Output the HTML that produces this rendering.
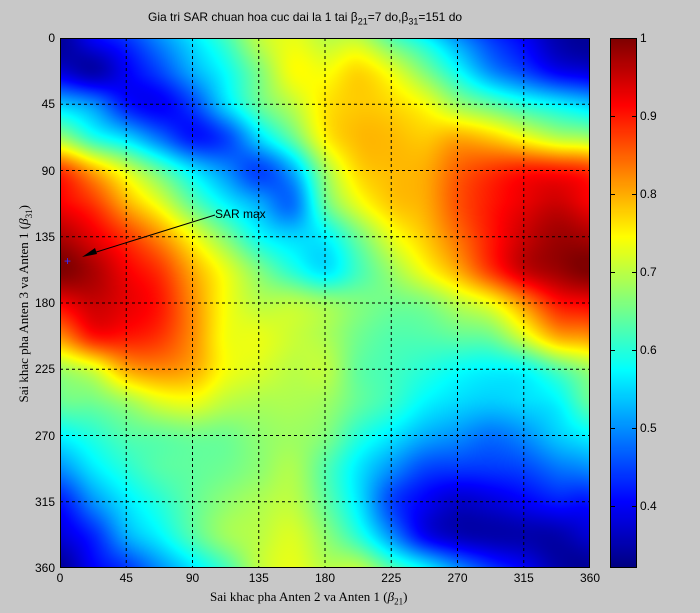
<!DOCTYPE html>
<html><head><meta charset="utf-8"><style>
body{margin:0;background:#c8c8c8;width:700px;height:613px;overflow:hidden;position:relative;font-family:"Liberation Sans",sans-serif;}
.t{position:absolute;font-size:12px;color:#000;}
.s{font-family:"Liberation Serif",serif;}
</style></head><body>
<canvas id="c" width="530" height="530" style="position:absolute;left:60px;top:38px"></canvas>
<canvas id="cb" width="27" height="530" style="position:absolute;left:610px;top:38px"></canvas>
<svg width="700" height="613" style="position:absolute;left:0;top:0">
<g id="g" stroke="#000" stroke-width="1" stroke-dasharray="3,3" fill="none"></g>
<rect x="60.5" y="38.5" width="529" height="529" fill="none" stroke="#000"/>
<rect x="610.5" y="38.5" width="26" height="529" fill="none" stroke="#000"/>
<line x1="215" y1="215" x2="90" y2="254" stroke="#000"/>
<polygon points="82,257 95,248 97,254" fill="#000"/>
<text x="64" y="265" fill="#3030ff" font-size="12">+</text>
</svg>
<div class="t" style="left:215px;top:207px;">SAR max</div>
<div class="t" style="left:148px;top:10px;">Gia tri SAR chuan hoa cuc dai la 1 tai β<sub style="font-size:9px">21</sub>=7 do,β<sub style="font-size:9px">31</sub>=151 do</div>
<div class="t s" style="left:210px;top:589px;font-size:13px;">Sai khac pha Anten 2 va Anten 1 (<i>β</i><sub style="font-size:9px">21</sub>)</div>
<div class="t s" style="left:-95px;top:295px;font-size:13px;transform:rotate(-90deg);width:240px;text-align:center;">Sai khac pha Anten 3 va Anten 1 (<i>β</i><sub style="font-size:9px">31</sub>)</div>
<div id="lab"></div>
<script>
var V=[
[.34,.40,.44,.50,.56,.62,.70,.73, .70,.70,.63,.57,.50,.44,.40,.35],
[.38,.35,.40,.45,.52,.58,.66,.74, .74,.77,.73,.66,.58,.50,.45,.40],
[.54,.50,.42,.40,.45,.55,.64,.70, .76,.78,.77,.74,.68,.64,.60,.57],
[.68,.60,.55,.48,.42,.45,.55,.64, .75,.79,.79,.78,.80,.78,.74,.70],
[.88,.80,.72,.64,.56,.50,.45,.52, .68,.77,.79,.80,.85,.88,.90,.90],
[.92,.88,.80,.73,.64,.57,.52,.48, .64,.73,.78,.80,.86,.90,.93,.95],
[.97,.93,.88,.82,.74,.66,.58,.55, .57,.65,.73,.78,.84,.90,.95,.98],
[1.0,.97,.92,.88,.80,.73,.66,.60, .56,.62,.68,.74,.80,.88,.95,.98],
[.92,.95,.93,.90,.82,.74,.70,.70, .68,.66,.65,.66,.70,.74,.82,.90],
[.82,.90,.90,.88,.82,.74,.73,.71, .69,.65,.63,.63,.64,.65,.72,.80],
[.68,.72,.80,.82,.80,.74,.72,.70, .70,.64,.62,.60,.58,.57,.58,.63],
[.64,.65,.68,.72,.73,.70,.69,.69, .68,.64,.61,.57,.55,.54,.55,.57],
[.57,.60,.63,.64,.65,.65,.67,.68, .66,.60,.56,.52,.50,.48,.50,.54],
[.50,.56,.60,.63,.64,.65,.67,.69, .63,.56,.50,.45,.44,.44,.45,.48],
[.42,.50,.56,.60,.64,.67,.69,.70, .64,.56,.45,.40,.37,.38,.40,.42],
[.38,.43,.52,.57,.63,.68,.70,.72, .67,.60,.50,.40,.36,.35,.35,.35]];
var N=16,S=22.5;
function g(i,j){return V[(i%N+N)%N][(j%N+N)%N];}
function cr(p0,p1,p2,p3,t){return 0.5*((2*p1)+(-p0+p2)*t+(2*p0-5*p1+4*p2-p3)*t*t+(-p0+3*p1-3*p2+p3)*t*t*t);}
function f(x,y){var gx=x/S,gy=y/S,i=Math.floor(gy),j=Math.floor(gx),tx=gx-j,ty=gy-i,r=[];
for(var k=-1;k<3;k++)r.push(cr(g(i+k,j-1),g(i+k,j),g(i+k,j+1),g(i+k,j+2),tx));
return cr(r[0],r[1],r[2],r[3],ty);}
function jet(t){t=Math.max(0,Math.min(1,t));function c(v){return Math.round(255*Math.max(0,Math.min(1,v)));}
return [c(1.5-Math.abs(4*t-3)),c(1.5-Math.abs(4*t-2)),c(1.5-Math.abs(4*t-1))];}
var lo=0.32,hi=1;
var cv=document.getElementById('c'),cx=cv.getContext('2d'),im=cx.createImageData(530,530);
for(var py=0;py<530;py++)for(var px=0;px<530;px++){var v=f(px*360/530,py*360/530);
var c=jet((v-lo)/(hi-lo)),o=(py*530+px)*4;im.data[o]=c[0];im.data[o+1]=c[1];im.data[o+2]=c[2];im.data[o+3]=255;}
cx.putImageData(im,0,0);
var cb=document.getElementById('cb').getContext('2d');
for(var y=0;y<530;y++){var c=jet(1-y/530);cb.fillStyle='rgb('+c+')';cb.fillRect(0,y,27,1);}
var gg=document.getElementById('g'),h='',lab='';
for(var k=1;k<8;k++){var p=60+k*66.25;h+='<line x1="'+p+'" y1="38" x2="'+p+'" y2="568"/><line x1="60" y1="'+(38+k*66.25)+'" x2="590" y2="'+(38+k*66.25)+'"/>';}
gg.innerHTML=h;
for(var k=0;k<=8;k++){var p=60+k*66.25,s=String(k*45);
lab+='<div class="t" style="left:'+(p-15)+'px;top:571px;width:30px;text-align:center">'+s+'</div>';
lab+='<div class="t" style="left:20px;top:'+(38+k*66.25-7)+'px;width:35px;text-align:right">'+s+'</div>';}
var tv=[1,0.9,0.8,0.7,0.6,0.5,0.4];
for(var k=0;k<tv.length;k++){var y=38+(1-tv[k])/0.68*530;
lab+='<div class="t" style="left:640px;top:'+(y-7)+'px">'+tv[k]+'</div>';
if(k>0)lab+='<div style="position:absolute;left:611px;top:'+y+'px;width:4px;height:1px;background:#000"></div><div style="position:absolute;left:632px;top:'+y+'px;width:4px;height:1px;background:#000"></div>';}
document.getElementById('lab').innerHTML=lab;
</script>
</body></html>
